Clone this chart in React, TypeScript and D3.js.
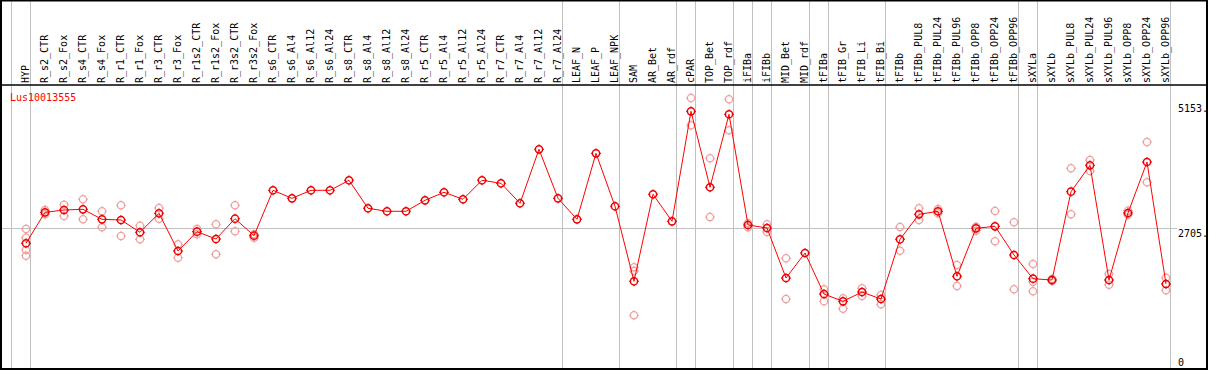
import { useEffect, useRef } from "react"
import * as d3 from "d3"

const W = 1209
const H = 370

const samples = [
  "HYP", "R_s2_CTR", "R_s2_Fox", "R_s4_CTR", "R_s4_Fox", "R_r1_CTR", "R_r1_Fox", "R_r3_CTR", "R_r3_Fox",
  "R_r1s2_CTR", "R_r1s2_Fox", "R_r3s2_CTR", "R_r3s2_Fox", "R_s6_CTR", "R_s6_Al4", "R_s6_Al12", "R_s6_Al24",
  "R_s8_CTR", "R_s8_Al4", "R_s8_Al12", "R_s8_Al24", "R_r5_CTR", "R_r5_Al4", "R_r5_Al12", "R_r5_Al24",
  "R_r7_CTR", "R_r7_Al4", "R_r7_Al12", "R_r7_Al24", "LEAF_N", "LEAF_P", "LEAF_NPK", "SAM", "AR_Bet", "AR_rdf",
  "cPAR", "TOP_Bet", "TOP_rdf", "iFIBa", "iFIBb", "MID_Bet", "MID_rdf", "tFIBa", "tFIB_Gr", "tFIB_Li", "tFIB_Bi",
  "tFIBb", "tFIBb_PUL8", "tFIBb_PUL24", "tFIBb_PUL96", "tFIBb_OPP8", "tFIBb_OPP24", "tFIBb_OPP96",
  "sXYLa", "sXYLb", "sXYLb_PUL8", "sXYLb_PUL24", "sXYLb_PUL96", "sXYLb_OPP8", "sXYLb_OPP24", "sXYLb_OPP96",
]

// mean expression per sample
const means = [
  2402, 3008, 3053, 3067, 2871, 2858, 2617, 2989, 2251, 2629, 2486, 2883, 2550,
  3439, 3282, 3439, 3439, 3635, 3087, 3028, 3028, 3243, 3400, 3263, 3635, 3576, 3185, 4241, 3282,
  2871, 4163, 3126, 1658, 3361, 2832, 4985, 3498, 4927, 2760, 2701, 1722, 2212,
  1409, 1266, 1448, 1311, 2480, 2969, 3028, 1756, 2695, 2734, 2173,
  1709, 1683, 3412, 3928, 1683, 2995, 3993, 1605,
]

// replicate values per sample
const reps = [
  [2681, 2511, 2270, 2159], [3053, 2969], [3157, 2936], [3263, 2871], [3028, 2715], [3145, 2544],
  [2746, 2480], [3093, 2883], [2382, 2120], [2681, 2578], [2774, 2186], [3145, 2636], [2578, 2511],
  [], [], [], [], [], [], [], [], [], [], [], [], [], [], [], [],
  [], [], [], [1932, 1859, 992], [], [], [5246, 4711], [4065, 2916], [5220, 4613],
  [2793, 2715], [2774, 2623], [2108, 1311], [], [1501, 1266], [1325, 1122], [1521, 1370], [1390, 1208],
  [2721, 2257], [3087, 2858], [3073, 2989], [1977, 1566], [2727, 2648], [3034, 2441], [2813, 1501],
  [1996, 1650, 1462], [1703, 1664], [3870, 2969], [4032, 3817], [1801, 1591], [3040, 2961], [4384, 3596], [1728, 1482],
]

// indices where a new sample group starts (last = right edge)
const groupStarts = [0, 1, 29, 32, 35, 36, 38, 39, 40, 42, 43, 46, 53, 54, 61]

const yTicks = [5153, 2705, 0]
const geneName = "Lus10013555"

const App = () => {
  const ref = useRef(null)

  useEffect(() => {
    const svg = d3.select(ref.current)
    svg.selectAll("*").remove()

    const x = d3.scaleLinear().domain([0, samples.length - 1]).range([26, 1166])
    const y = d3.scaleLinear().domain([0, 5500]).range([366, 85])
    const font = "'DejaVu Sans Mono', monospace"

    svg.append("rect").attr("width", W).attr("height", H).attr("fill", "#fff")

    // gridline
    svg.append("line")
      .attr("x1", 1).attr("x2", 1177)
      .attr("y1", Math.round(y(2705)) + 0.5).attr("y2", Math.round(y(2705)) + 0.5)
      .attr("stroke", "#c0c0c0")

    // group separators
    svg.append("g").selectAll("line")
      .data(groupStarts)
      .join("line")
      .attr("x1", d => Math.floor(x(d) - 14.5) + 0.5)
      .attr("x2", d => Math.floor(x(d) - 14.5) + 0.5)
      .attr("y1", 0).attr("y2", H)
      .attr("stroke", "#c0c0c0")

    // frame
    svg.append("rect")
      .attr("x", 1).attr("y", 0.5).attr("width", 1206).attr("height", 368.5)
      .attr("fill", "none").attr("stroke", "#000").attr("stroke-width", 2)
    svg.append("line")
      .attr("x1", 0).attr("x2", 1208).attr("y1", 85).attr("y2", 85)
      .attr("stroke", "#000").attr("stroke-width", 1.5)

    // sample labels
    svg.append("g").selectAll("text")
      .data(samples)
      .join("text")
      .attr("transform", (d, i) => `translate(${x(i) + 2.5},83) rotate(-90)`)
      .attr("font-family", font)
      .attr("font-size", 10)
      .attr("fill", "#000")
      .text(d => d)

    // gene name
    svg.append("text")
      .attr("x", 10).attr("y", 101)
      .attr("font-family", font).attr("font-size", 10)
      .attr("fill", "#ff0000")
      .text(geneName)

    // y tick labels
    svg.append("g").selectAll("text")
      .data(yTicks)
      .join("text")
      .attr("x", 1178)
      .attr("y", d => d === 0 ? 366 : y(d) + 9)
      .attr("font-family", font).attr("font-size", 10)
      .attr("fill", "#000")
      .text(d => d === 0 ? "0" : d + ".")

    const marker = (g, cx, cy, color, sw) => {
      g.append("circle").attr("cx", cx).attr("cy", cy).attr("r", 3.6)
        .attr("fill", "none").attr("stroke", color).attr("stroke-width", sw)
      const t = [[0, -1], [0, 1], [-1, 0], [1, 0]]
      t.forEach(([dx, dy]) => {
        g.append("line")
          .attr("x1", cx + dx * 3.6).attr("y1", cy + dy * 3.6)
          .attr("x2", cx + dx * 5).attr("y2", cy + dy * 5)
          .attr("stroke", color).attr("stroke-width", 1)
      })
    }

    // replicates
    const gr = svg.append("g")
    reps.forEach((vals, i) => {
      vals.forEach(v => marker(gr, x(i), y(v), "#f0a0a0", 1.3))
    })

    // mean line
    const line = d3.line().x((d, i) => x(i)).y(d => y(d))
    svg.append("path")
      .datum(means)
      .attr("d", line)
      .attr("fill", "none")
      .attr("stroke", "#ff0000")
      .attr("stroke-width", 1)

    const gm = svg.append("g")
    means.forEach((v, i) => marker(gm, x(i), y(v), "#ee0000", 1.5))
  }, [])

  return (
    <svg ref={ref} width={W} height={H} style={{ position: "fixed", left: 0, top: 0 }} />
  )
}

export default App
